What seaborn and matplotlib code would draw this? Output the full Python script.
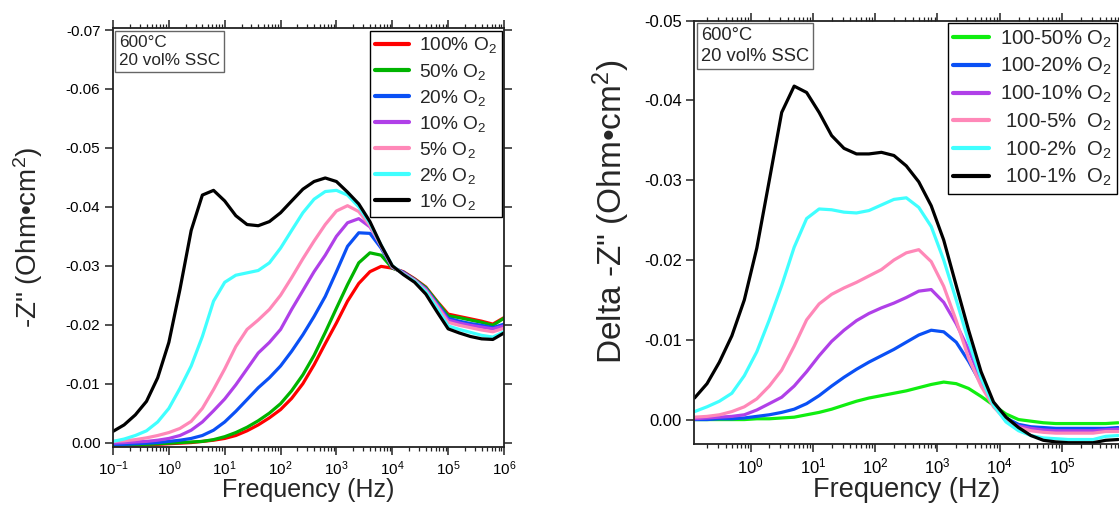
import matplotlib
matplotlib.use("Agg")
import matplotlib.pyplot as plt
import seaborn as sns
import pandas as pd
from matplotlib.ticker import LogLocator, NullFormatter, FormatStrFormatter, FixedLocator

# ---------------- data ----------------
freq_left = [0.1, 0.158, 0.251, 0.398, 0.631, 1.0, 1.58, 2.51, 3.98, 6.31,
             10, 15.8, 25.1, 39.8, 63.1, 100, 158, 251, 398, 631,
             1000, 1580, 2510, 3980, 6310, 1e4, 1.58e4, 2.51e4, 3.98e4, 6.31e4,
             1e5, 1.58e5, 2.51e5, 3.98e5, 6.31e5, 1e6]

z_100 = [0.0004, 0.0004, 0.0004, 0.0003, 0.0003, 0.0002, 0.0001, 0.0000, -0.0002, -0.0004,
         -0.0007, -0.0012, -0.0020, -0.0030, -0.0042, -0.0056, -0.0075, -0.0100, -0.0132, -0.0168,
         -0.0203, -0.0240, -0.0270, -0.0290, -0.0299, -0.0296, -0.0290, -0.0278, -0.0264, -0.0240,
         -0.0218, -0.0214, -0.0210, -0.0206, -0.0201, -0.0212]
z_50 = [0.0004, 0.0004, 0.0003, 0.0003, 0.0002, 0.0001, 0.0000, -0.0001, -0.0002, -0.0005,
        -0.0010, -0.0017, -0.0026, -0.0037, -0.0050, -0.0066, -0.0088, -0.0115, -0.0148, -0.0187,
        -0.0228, -0.0268, -0.0305, -0.0322, -0.0318, -0.0296, -0.0289, -0.0277, -0.0263, -0.0239,
        -0.0215, -0.0212, -0.0208, -0.0204, -0.0199, -0.0211]
z_20 = [0.0003, 0.0003, 0.0002, 0.0001, 0.0000, -0.0002, -0.0004, -0.0007, -0.0012, -0.0021,
        -0.0035, -0.0053, -0.0073, -0.0093, -0.0110, -0.0130, -0.0155, -0.0183, -0.0214, -0.0248,
        -0.0290, -0.0333, -0.0356, -0.0355, -0.0330, -0.0297, -0.0289, -0.0276, -0.0261, -0.0236,
        -0.0211, -0.0206, -0.0202, -0.0199, -0.0195, -0.0201]
z_10 = [0.0001, 0.0000, -0.0001, -0.0002, -0.0004, -0.0007, -0.0012, -0.0021, -0.0035, -0.0054,
        -0.0074, -0.0098, -0.0125, -0.0152, -0.0170, -0.0192, -0.0226, -0.0258, -0.0290, -0.0318,
        -0.0350, -0.0373, -0.0380, -0.0366, -0.0334, -0.0298, -0.0288, -0.0276, -0.0260, -0.0234,
        -0.0208, -0.0203, -0.0199, -0.0196, -0.0193, -0.0198]
z_5 = [-0.0002, -0.0003, -0.0005, -0.0008, -0.0012, -0.0017, -0.0024, -0.0036, -0.0058, -0.0090,
       -0.0125, -0.0163, -0.0192, -0.0208, -0.0226, -0.0250, -0.0280, -0.0312, -0.0342, -0.0370,
       -0.0393, -0.0402, -0.0392, -0.0368, -0.0333, -0.0298, -0.0287, -0.0275, -0.0258, -0.0232,
       -0.0204, -0.0199, -0.0195, -0.0191, -0.0188, -0.0194]
z_2 = [-0.0002, -0.0006, -0.0012, -0.0020, -0.0035, -0.0058, -0.0092, -0.0130, -0.0180, -0.0240,
       -0.0272, -0.0284, -0.0288, -0.0292, -0.0305, -0.0330, -0.0360, -0.0390, -0.0413, -0.0426,
       -0.0428, -0.0420, -0.0400, -0.0372, -0.0335, -0.0300, -0.0286, -0.0274, -0.0256, -0.0228,
       -0.0198, -0.0192, -0.0187, -0.0182, -0.0179, -0.0188]
z_1 = [-0.0019, -0.0030, -0.0047, -0.0070, -0.0110, -0.0170, -0.0260, -0.0360, -0.0420, -0.0428,
       -0.0410, -0.0385, -0.0370, -0.0368, -0.0375, -0.0390, -0.0410, -0.0430, -0.0443, -0.0449,
       -0.0443, -0.0425, -0.0405, -0.0375, -0.0335, -0.0300, -0.0285, -0.0272, -0.0252, -0.0222,
       -0.0193, -0.0186, -0.0180, -0.0176, -0.0175, -0.0186]

freq_right = [0.126, 0.2, 0.316, 0.501, 0.794, 1.26, 2.0, 3.16, 5.01, 7.94,
              12.6, 20, 31.6, 50.1, 79.4, 126, 200, 316, 501, 794,
              1260, 2000, 3160, 5010, 7940, 1.26e4, 2e4, 3.16e4, 5.01e4, 7.94e4,
              1.26e5, 2e5, 3.16e5, 5.01e5, 7.94e5]

d_50 = [0.0000, 0.0000, 0.0000, 0.0000, 0.0000, -0.0001, -0.0001, -0.0002, -0.0003, -0.0006,
        -0.0009, -0.0013, -0.0018, -0.0023, -0.0027, -0.0030, -0.0033, -0.0036, -0.0040, -0.0044,
        -0.0047, -0.0045, -0.0039, -0.0029, -0.0018, -0.0007, 0.0000, 0.0002, 0.0004, 0.0005,
        0.0005, 0.0005, 0.0005, 0.0005, 0.0004]
d_20 = [0.0000, 0.0000, -0.0001, -0.0001, -0.0002, -0.0004, -0.0006, -0.0009, -0.0013, -0.0020,
        -0.0030, -0.0042, -0.0053, -0.0063, -0.0072, -0.0080, -0.0088, -0.0097, -0.0106, -0.0112,
        -0.0110, -0.0097, -0.0073, -0.0045, -0.0020, -0.0002, 0.0006, 0.0009, 0.0010, 0.0011,
        0.0011, 0.0011, 0.0011, 0.0011, 0.0010]
d_10 = [-0.0001, -0.0002, -0.0003, -0.0004, -0.0006, -0.0012, -0.0020, -0.0028, -0.0042, -0.0060,
        -0.0080, -0.0098, -0.0112, -0.0124, -0.0133, -0.0140, -0.0146, -0.0153, -0.0161, -0.0163,
        -0.0147, -0.0120, -0.0088, -0.0049, -0.0020, 0.0002, 0.0008, 0.0011, 0.0013, 0.0014,
        0.0014, 0.0014, 0.0014, 0.0013, 0.0012]
d_5 = [-0.0003, -0.0004, -0.0006, -0.0010, -0.0016, -0.0026, -0.0042, -0.0062, -0.0092, -0.0125,
       -0.0145, -0.0157, -0.0165, -0.0172, -0.0180, -0.0188, -0.0200, -0.0209, -0.0213, -0.0198,
       -0.0167, -0.0124, -0.0077, -0.0042, -0.0016, 0.0001, 0.0010, 0.0014, 0.0016, 0.0017,
       0.0017, 0.0017, 0.0017, 0.0015, 0.0015]
d_2 = [-0.0010, -0.0016, -0.0023, -0.0033, -0.0055, -0.0085, -0.0125, -0.0168, -0.0216, -0.0252,
       -0.0264, -0.0263, -0.0260, -0.0259, -0.0262, -0.0269, -0.0276, -0.0278, -0.0266, -0.0242,
       -0.0200, -0.0150, -0.0098, -0.0052, -0.0018, 0.0003, 0.0014, 0.0020, 0.0023, 0.0024,
       0.0025, 0.0025, 0.0025, 0.0021, 0.0020]
d_1 = [-0.0027, -0.0045, -0.0072, -0.0105, -0.0150, -0.0215, -0.0300, -0.0385, -0.0418, -0.0410,
       -0.0385, -0.0356, -0.0340, -0.0333, -0.0333, -0.0335, -0.0331, -0.0318, -0.0298, -0.0268,
       -0.0225, -0.0168, -0.0112, -0.0060, -0.0022, -0.0003, 0.0010, 0.0020, 0.0026, 0.0028,
       0.0029, 0.0029, 0.0029, 0.0026, 0.0025]

left_labels = ["100% O$_2$", "50% O$_2$", "20% O$_2$", "10% O$_2$", "5% O$_2$", "2% O$_2$", "1% O$_2$"]
left_series = [z_100, z_50, z_20, z_10, z_5, z_2, z_1]
left_colors = ["#FF0000", "#00B400", "#0A50F5", "#B040E8", "#FF88B8", "#40FFFF", "#000000"]

right_labels = ["100-50% O$_2$", "100-20% O$_2$", "100-10% O$_2$",
                " 100-5%  O$_2$", " 100-2%  O$_2$", " 100-1%  O$_2$"]
right_series = [d_50, d_20, d_10, d_5, d_2, d_1]
right_colors = ["#10EE10", "#0A50F5", "#B040E8", "#FF88B8", "#40FFFF", "#000000"]

left_yticks = [-0.07, -0.06, -0.05, -0.04, -0.03, -0.02, -0.01, 0.00]
right_yticks = [-0.05, -0.04, -0.03, -0.02, -0.01, 0.00]
note_text = "600°C\n20 vol% SSC"

# ---------------- style ----------------
sns.set_theme(style="ticks")
plt.rcParams["font.family"] = ["Liberation Sans", "DejaVu Sans"]
plt.rcParams["mathtext.fontset"] = "custom"
plt.rcParams["mathtext.rm"] = "Liberation Sans"
plt.rcParams["mathtext.it"] = "Liberation Sans:italic"
plt.rcParams["mathtext.bf"] = "Liberation Sans:bold"
plt.rcParams["axes.unicode_minus"] = False

fig = plt.figure(figsize=(11.19, 5.14), dpi=100)
axL = fig.add_axes([113 / 1119, 1 - 446.7 / 514, 391 / 1119, 418.4 / 514])
axR = fig.add_axes([694.3 / 1119, 1 - 444.3 / 514, 424.7 / 1119, 423.6 / 514])


def draw(ax, freq, series, labels, colors):
    for vals, lab, col in zip(series, labels, colors):
        df = pd.DataFrame({"f": freq, "z": vals})
        sns.lineplot(data=df, x="f", y="z", color=col, linewidth=2.3, label=lab,
                     ax=ax, sort=True, estimator=None, solid_joinstyle="round")


draw(axL, freq_left, left_series, left_labels, left_colors)
draw(axR, freq_right, right_series, right_labels, right_colors)

spine_col = "#222222"
for ax, tsize, lsize, legsize, notesize in [(axL, 11, 18, 13.8, 12.3), (axR, 12, 19.5, 14.6, 13.2)]:
    ax.set_xscale("log")
    ax.xaxis.set_major_locator(LogLocator(base=10, numticks=20))
    ax.xaxis.set_minor_locator(LogLocator(base=10, subs=[2, 3, 4, 5, 6, 7, 8, 9], numticks=20))
    ax.xaxis.set_minor_formatter(NullFormatter())
    for sp in ax.spines.values():
        sp.set_color(spine_col)
        sp.set_linewidth(1.3)
    ax.tick_params(which="major", direction="out", length=6, width=1.1, color=spine_col,
                   labelsize=tsize, labelcolor="black", pad=3)
    ax.tick_params(which="minor", direction="out", length=3, width=0.9, color=spine_col)
    ax.yaxis.set_major_formatter(FormatStrFormatter("%.2f"))
    ax.set_xlabel("Frequency (Hz)", fontsize=lsize, labelpad=0)
    leg = ax.legend(loc="upper right", frameon=True, fancybox=False, edgecolor="black",
                    framealpha=1, fontsize=legsize, handlelength=1.8, handletextpad=0.5,
                    labelspacing=0.32, borderaxespad=0.12, borderpad=0.25)
    leg.get_frame().set_linewidth(1.0)
    for line in leg.get_lines():
        line.set_linewidth(3)
    ax.text(0.016, 0.985, note_text, transform=ax.transAxes, ha="left", va="top",
            fontsize=notesize, linespacing=1.3,
            bbox=dict(boxstyle="square,pad=0.22", facecolor="white", edgecolor="#666666", linewidth=1.0))

# left panel
axL.set_xlim(0.1, 1e6)
axL.set_ylim(0.0007, -0.0703)
axL.yaxis.set_major_locator(FixedLocator(left_yticks))
axL.tick_params(which="both", top=True, right=True, bottom=True, left=True,
                labeltop=False, labelright=False)
axL.set_ylabel('-Z" (Ohm•cm$^{2}$)', fontsize=20)
axL.yaxis.set_label_coords(-0.175, 0.5)

# right panel
axR.set_xlim(0.125, 8.2e5)
axR.set_ylim(0.0031, -0.05)
axR.yaxis.set_major_locator(FixedLocator(right_yticks))
axR.spines["right"].set_visible(False)
axR.tick_params(which="both", top=True, right=False, bottom=True, left=True,
                labeltop=False, labelright=False)
axR.set_ylabel('Delta -Z" (Ohm•cm$^{2}$)', fontsize=24)
axR.yaxis.set_label_coords(-0.147, 0.55)

fig.savefig("out.png", dpi=100)
